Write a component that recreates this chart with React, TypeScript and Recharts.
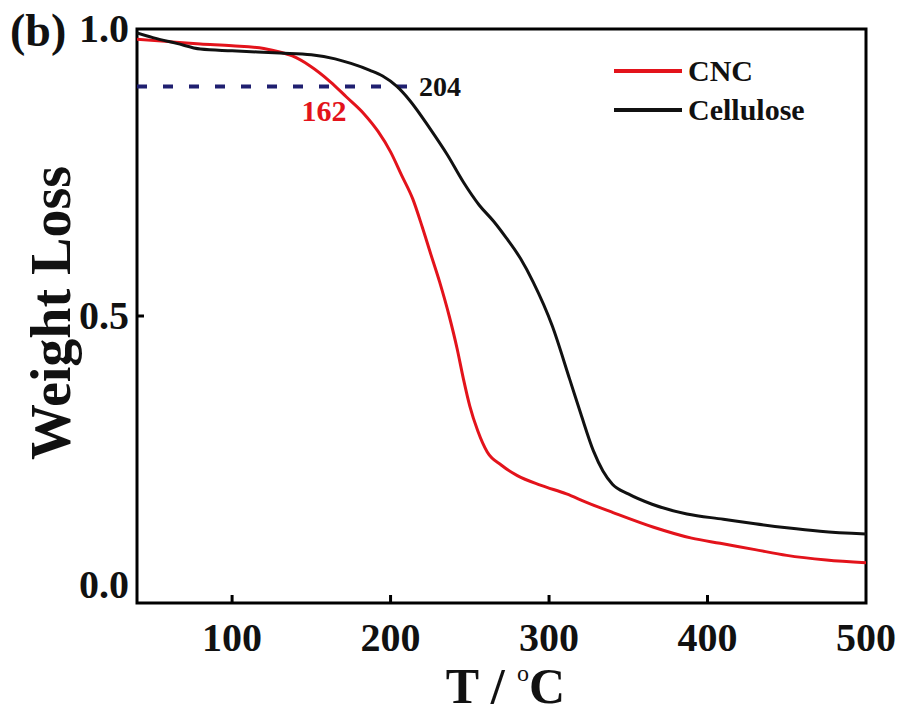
import React from "react";
import {
  LineChart,
  Line,
  XAxis,
  YAxis,
  ReferenceLine,
  ReferenceArea,
  ReferenceDot,
} from "recharts";

// TGA curves (T in °C, weight fraction)
const cncT = [40, 60, 80, 100, 120, 130, 138, 149, 162, 172, 183, 192, 200, 207, 214, 220, 225, 231, 237, 242, 246, 250, 255, 261, 270, 280, 295, 311, 324, 340, 366, 390, 408, 430, 450, 475, 500];
const cncW = [0.982, 0.978, 0.974, 0.971, 0.966, 0.96, 0.953, 0.936, 0.908, 0.882, 0.853, 0.822, 0.786, 0.745, 0.704, 0.655, 0.611, 0.559, 0.5, 0.443, 0.39, 0.343, 0.3, 0.263, 0.24, 0.222, 0.205, 0.19, 0.175, 0.158, 0.132, 0.113, 0.104, 0.093, 0.083, 0.075, 0.07];

const celT = [40, 50, 65, 80, 100, 130, 150, 165, 175, 187, 195, 204, 212, 225, 236, 246, 256, 265, 273, 282, 290, 302, 313, 320, 328, 334, 340, 350, 365, 387, 410, 430, 450, 471, 500];
const celW = [0.993, 0.985, 0.975, 0.965, 0.962, 0.958, 0.955, 0.948, 0.94, 0.928, 0.918, 0.9, 0.876, 0.826, 0.78, 0.733, 0.693, 0.665, 0.636, 0.6, 0.559, 0.483, 0.39, 0.33, 0.265, 0.23, 0.207, 0.19, 0.172, 0.155, 0.146, 0.138, 0.131, 0.125, 0.12];

const xTicks = [100, 200, 300, 400, 500];
const yTicks = [0, 0.5, 1];

const seriesNames = ["CNC", "Cellulose"];
const seriesColors = ["#e3131b", "#111111"];

const onsetLevel = 0.9;
const onsetEnd = 215;
const cncOnset = { T: 158, label: "162" };
const celOnset = { T: 204, label: "204" };

const cncData = cncT.map((t, i) => ({ T: t, w: cncW[i] }));
const celData = celT.map((t, i) => ({ T: t, w: celW[i] }));

const FONT = "'Liberation Serif', 'Times New Roman', serif";

const XTick = (props: any) => {
  const { x, y, payload } = props;
  return (
    <g>
      {payload.value < 500 && (
        <line x1={x} x2={x} y1={y} y2={y - 8} stroke="#000" strokeWidth={3} />
      )}
      <text
        x={x}
        y={y + 48}
        textAnchor="middle"
        fontFamily={FONT}
        fontWeight="bold"
        fontSize={40}
        fill="#111"
      >
        {payload.value}
      </text>
    </g>
  );
};

const YTick = (props: any) => {
  const { x, y, payload } = props;
  const v = payload.value;
  const dy = v === 0 ? -5 : 13;
  return (
    <g>
      {v > 0 && v < 1 && (
        <line x1={x} x2={x + 7} y1={y} y2={y} stroke="#000" strokeWidth={3} />
      )}
      <text
        x={x - 8}
        y={y + dy}
        textAnchor="end"
        fontFamily={FONT}
        fontWeight="bold"
        fontSize={40}
        fill="#111"
      >
        {v.toFixed(1)}
      </text>
    </g>
  );
};

const XLabel = (props: any) => {
  const { x, y, width } = props.viewBox;
  return (
    <text
      x={x + width / 2 + 4}
      y={y + 100}
      textAnchor="middle"
      fontFamily={FONT}
      fontWeight="bold"
      fontSize={50}
      fill="#111"
    >
      T / <tspan dy={-22} fontSize={24} fontWeight="normal">o</tspan>
      <tspan dy={22}>C</tspan>
    </text>
  );
};

const YLabel = (props: any) => {
  const { y, height } = props.viewBox;
  const cx = 70;
  const cy = y + height / 2 - 3;
  return (
    <text
      x={cx}
      y={cy}
      transform={`rotate(-90 ${cx} ${cy})`}
      textAnchor="middle"
      fontFamily={FONT}
      fontWeight="bold"
      fontSize={56}
      fill="#111"
    >
      Weight Loss
    </text>
  );
};

export default function App() {
  return (
    <div
      style={{
        position: "absolute",
        left: 0,
        top: 0,
        width: 901,
        height: 713,
        background: "#fff",
      }}
    >
      <LineChart
        width={901}
        height={713}
        margin={{ top: 29, right: 35, bottom: 0, left: 0 }}
      >
        <XAxis
          type="number"
          dataKey="T"
          domain={[40, 500]}
          ticks={xTicks}
          allowDataOverflow
          height={110}
          tickSize={0}
          tickMargin={0}
          tickLine={false}
          axisLine={false}
          tick={XTick}
          label={{ content: XLabel }}
        />
        <YAxis
          type="number"
          domain={[0, 1]}
          ticks={yTicks}
          width={137}
          tickSize={0}
          tickMargin={0}
          tickLine={false}
          axisLine={false}
          tick={YTick}
          label={{ content: YLabel }}
        />
        <ReferenceArea
          x1={40}
          x2={500}
          y1={0}
          y2={1}
          fill="none"
          stroke="#000"
          strokeWidth={3}
          ifOverflow="visible"
        />
        <ReferenceLine
          segment={[
            { x: 40, y: onsetLevel },
            { x: onsetEnd, y: onsetLevel },
          ]}
          stroke="#1f1f70"
          strokeWidth={4}
          strokeDasharray="10 16"
        />
        <Line
          data={cncData}
          dataKey="w"
          type="monotone"
          stroke={seriesColors[0]}
          strokeWidth={3}
          dot={false}
          isAnimationActive={false}
        />
        <Line
          data={celData}
          dataKey="w"
          type="monotone"
          stroke={seriesColors[1]}
          strokeWidth={3}
          dot={false}
          isAnimationActive={false}
        />
        <ReferenceDot
          x={cncOnset.T}
          y={onsetLevel}
          r={0}
          stroke="none"
          label={{
            value: cncOnset.label,
            position: "bottom",
            offset: 13,
            fill: "#e3131b",
            fontFamily: FONT,
            fontWeight: "bold",
            fontSize: 30,
          }}
        />
        <ReferenceDot
          x={celOnset.T}
          y={onsetLevel}
          r={0}
          stroke="none"
          label={{
            value: celOnset.label,
            position: "right",
            offset: 22,
            fill: "#111",
            fontFamily: FONT,
            fontWeight: "bold",
            fontSize: 28,
          }}
        />
      </LineChart>
      <div
        style={{
          position: "absolute",
          left: 10,
          top: 8,
          fontFamily: FONT,
          fontWeight: "bold",
          fontSize: 46,
          color: "#111",
          lineHeight: 1,
        }}
      >
        (b)
      </div>
      <div
        style={{
          position: "absolute",
          left: 614,
          top: 51,
          fontFamily: FONT,
          fontWeight: "bold",
          fontSize: 30,
          color: "#111",
          lineHeight: "39px",
        }}
      >
        {seriesNames.map((n, i) => (
          <div key={n} style={{ display: "flex", alignItems: "center" }}>
            <span
              style={{
                display: "inline-block",
                width: 68,
                height: 4,
                background: seriesColors[i],
                marginRight: 6,
              }}
            />
            {n}
          </div>
        ))}
      </div>
    </div>
  );
}
